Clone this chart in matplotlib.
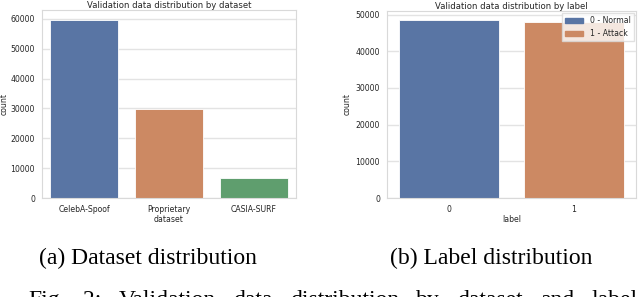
import matplotlib
matplotlib.use("Agg")
import matplotlib.pyplot as plt
from matplotlib.patches import Patch

# data
datasets = ["CelebA-Spoof", "Proprietary", "CASIA-SURF"]
dataset_counts = [59700, 29900, 6600]
labels = ["0", "1"]
label_counts = [48500, 47900]
legend_names = ["0 - Normal", "1 - Attack"]

# seaborn "deep" palette at saturation 0.75
colors = ["#5975a4", "#cc8963", "#5f9e6e"]

grid_col = "#e3e3e3"
spine_col = "#d9d9d9"
text_col = "#262626"
fs = 5.6

fig = plt.figure(figsize=(6.4, 2.97), dpi=100)
ax1 = fig.add_axes([0.0656, 0.3333, 0.397, 0.633])
ax2 = fig.add_axes([0.6047, 0.3333, 0.389, 0.630])


def style(ax):
    ax.set_axisbelow(True)
    ax.grid(axis="y", color=grid_col, linewidth=1.0)
    ax.grid(axis="x", visible=False)
    for s in ax.spines.values():
        s.set_color(spine_col)
        s.set_linewidth(0.8)
    ax.tick_params(axis="both", length=0, labelsize=fs, colors=text_col, pad=5)


# (a) dataset distribution
x1 = range(len(datasets))
ax1.bar(x1, dataset_counts, width=0.8, color=colors[:3], edgecolor="white", linewidth=0.6)
ax1.set_xlim(-0.5, 2.5)
ax1.set_ylim(0, 63000)
ax1.set_yticks(range(0, 60001, 10000))
ax1.set_xticks(list(x1))
ax1.set_xticklabels(datasets)
ax1.set_xlabel("dataset", fontsize=fs, color=text_col, labelpad=1)
ax1.set_ylabel("count", fontsize=fs, color=text_col, labelpad=1.2)
ax1.set_title("Validation data distribution by dataset", fontsize=6.1, color=text_col, pad=1.5)
style(ax1)

# (b) label distribution
x2 = range(len(labels))
ax2.bar(x2, label_counts, width=0.8, color=colors[:2], edgecolor="white", linewidth=0.6)
ax2.set_xlim(-0.5, 1.5)
ax2.set_ylim(0, 51000)
ax2.set_yticks(range(0, 50001, 10000))
ax2.set_xticks(list(x2))
ax2.set_xticklabels(labels)
ax2.set_xlabel("label", fontsize=fs, color=text_col, labelpad=1)
ax2.set_ylabel("count", fontsize=fs, color=text_col, labelpad=3)
ax2.set_title("Validation data distribution by label", fontsize=6.1, color=text_col, pad=1.5)
style(ax2)
handles = [Patch(color=c) for c in colors[:2]]
ax2.legend(handles, legend_names, loc="upper right", fontsize=fs, frameon=True,
           framealpha=0.8, edgecolor=spine_col, fancybox=False,
           borderaxespad=0.3, handlelength=2.4, labelcolor=text_col)

# captions as in the paper
serif = ["Liberation Serif", "DejaVu Serif"]
cap_fs = 17
fig.text(147.5 / 640, 1 - 264 / 297, "(a) Dataset distribution", family=serif,
         fontsize=cap_fs, ha="center", va="baseline", color="black")
fig.text(491 / 640, 1 - 264 / 297, "(b) Label distribution", family=serif,
         fontsize=cap_fs, ha="center", va="baseline", color="black")

# justified figure caption, only its top shows at the bottom edge
words = "Fig. 2: Validation data distribution by dataset and label".split()
renderer = fig.canvas.get_renderer()
items = [fig.text(0, 1 - 306 / 297, w, family=serif, fontsize=cap_fs,
                  ha="left", va="baseline", color="black") for w in words]
widths = [t.get_window_extent(renderer).width for t in items]
x_start, x_end = 28.0, 638.0
gap = (x_end - x_start - sum(widths)) / (len(words) - 1)
x = x_start
for t, w in zip(items, widths):
    t.set_x(x / 640)
    x += w + gap

fig.savefig("out.png", dpi=100)
